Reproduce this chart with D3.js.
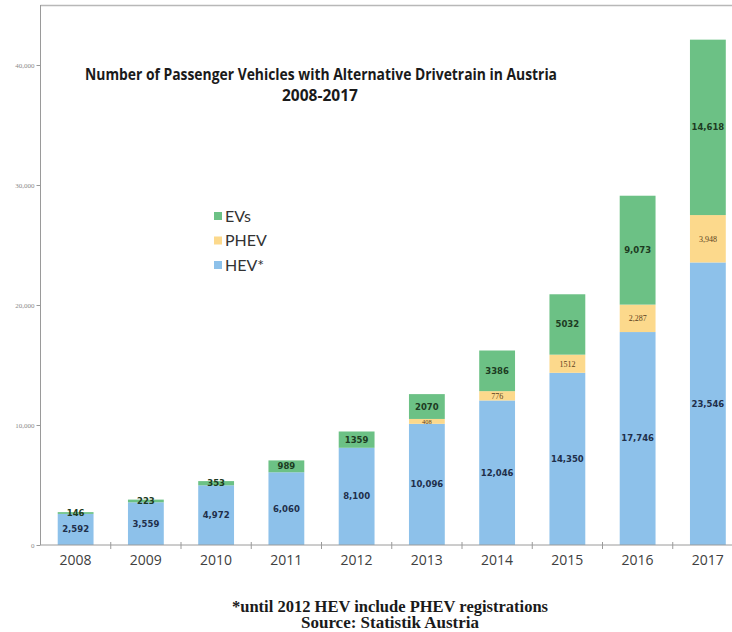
<!DOCTYPE html>
<html>
<head>
<meta charset="utf-8">
<script src="https://cdn.jsdelivr.net/npm/d3@7/dist/d3.min.js"></script>
<style>
  html, body { margin: 0; padding: 0; background: #fff; }
  svg { display: block; }
</style>
</head>
<body>
<svg id="chart" width="732" height="632"></svg>
<script>
// Registrations by year and drivetrain
const years = ["2008", "2009", "2010", "2011", "2012", "2013", "2014", "2015", "2016", "2017"];
const hev  = [2592, 3559, 4972, 6060, 8100, 10096, 12046, 14350, 17746, 23546];
const phev = [0, 0, 0, 0, 0, 408, 776, 1512, 2287, 3948];
const evs  = [146, 223, 353, 989, 1359, 2070, 3386, 5032, 9073, 14618];
// years whose EV / PHEV labels are printed without a thousands separator
const plainLabelYears = ["2012", "2013", "2014", "2015"];
const yTicks = [0, 10000, 20000, 30000, 40000];
const seriesNames = ["HEV*", "PHEV", "EVs"];
const colors = { "HEV*": "#8dc1ea", "PHEV": "#fcd98c", "EVs": "#6cc185" };

const svg = d3.select("#chart");
const W = 732, H = 632;

const x = d3.scaleBand().domain(years).range([40.5, 743]).paddingInner(0.49).paddingOuter(0.245);
const y = d3.scaleLinear().domain([0, 45000]).range([545, 5]);

// frame: top rule and left axis line
svg.append("line").attr("x1", 40.5).attr("x2", W).attr("y1", 5.5).attr("y2", 5.5)
  .attr("stroke", "#b8b8b8").attr("stroke-width", 1.5);

const rows = years.map((yr, i) => ({ year: yr, "HEV*": hev[i], "PHEV": phev[i], "EVs": evs[i] }));
const stacked = d3.stack().keys(seriesNames)(rows);

const g = svg.append("g");
stacked.forEach(layer => {
  g.append("g").attr("fill", colors[layer.key])
    .selectAll("rect").data(layer).join("rect")
    .filter(d => d[1] > d[0])
    .attr("x", d => x(d.data.year))
    .attr("width", x.bandwidth())
    .attr("y", d => y(d[1]))
    .attr("height", d => y(d[0]) - y(d[1]));
});

// y axis
const yAxis = d3.axisLeft(y).tickValues(yTicks).tickSize(4).tickFormat(d3.format(","));
const ya = svg.append("g").attr("transform", "translate(40.5,0)").call(yAxis);
ya.select(".domain").attr("stroke", "#9a9a9a").attr("d", "M0,5V545");
ya.selectAll(".tick line").attr("stroke", "#9a9a9a");
ya.selectAll(".tick text").attr("fill", "#8a8a8a")
  .attr("font-family", "'Liberation Serif', serif").attr("font-size", 7).attr("x", -6);

// x axis
const xAxis = d3.axisBottom(x).tickSize(0).tickPadding(10);
const xa = svg.append("g").attr("transform", "translate(0,545)").call(xAxis);
xa.select(".domain").attr("stroke", "#9a9a9a").attr("d", "M40.5,0H732");
xa.selectAll(".tick text").attr("fill", "#404040")
  .attr("font-family", "'Open Sans', sans-serif").attr("font-size", 14).attr("dy", "0.71em");
// separators between categories
const step = x.step();
xa.append("g").selectAll("line").data(years.slice(1)).join("line")
  .attr("x1", d => x(d) - x.paddingInner() * step / 2)
  .attr("x2", d => x(d) - x.paddingInner() * step / 2)
  .attr("y1", -3).attr("y2", 4).attr("stroke", "#9a9a9a");

// value labels inside the segments
const fmtComma = d3.format(",");
function labelText(key, d) {
  const v = d[1] - d[0];
  if (key === "HEV*") return fmtComma(v);
  return plainLabelYears.includes(d.data.year) ? String(v) : fmtComma(v);
}
stacked.forEach(layer => {
  const isPhev = layer.key === "PHEV";
  svg.append("g").selectAll("text").data(layer.filter(d => d[1] > d[0])).join("text")
    .attr("x", d => x(d.data.year) + x.bandwidth() / 2)
    .attr("y", d => y((d[0] + d[1]) / 2))
    .attr("dy", "0.35em")
    .attr("text-anchor", "middle")
    .attr("font-family", isPhev ? "'Liberation Serif', serif" : "'DejaVu Sans', sans-serif")
    .attr("font-weight", isPhev ? "normal" : "bold")
    .attr("font-size", isPhev ? (d => (d[1] - d[0] < 600 ? 6.5 : 8)) : 8.5)
    .attr("fill", isPhev ? "#5a4020" : (layer.key === "EVs" ? "#1d3b22" : "#1f2f4a"))
    .text(d => labelText(layer.key, d));
});

// title
const title = svg.append("g").attr("font-family", "'Open Sans', sans-serif")
  .attr("font-weight", "bold").attr("fill", "#1a1a1a").attr("text-anchor", "middle");
title.append("text").attr("x", 321).attr("y", 80).attr("font-size", 16)
  .attr("textLength", 472).attr("lengthAdjust", "spacingAndGlyphs")
  .text("Number of Passenger Vehicles with Alternative Drivetrain in Austria");
title.append("text").attr("x", 320).attr("y", 101).attr("font-size", 16)
  .attr("textLength", 76).attr("lengthAdjust", "spacingAndGlyphs")
  .text("2008-2017");

// legend
const legendOrder = ["EVs", "PHEV", "HEV*"];
const lg = svg.append("g").attr("transform", "translate(214,216)");
legendOrder.forEach((name, i) => {
  const row = lg.append("g").attr("transform", `translate(0,${i * 24.5})`);
  row.append("rect").attr("x", 0).attr("y", -4).attr("width", 8).attr("height", 8)
    .attr("fill", colors[name]);
  row.append("text").attr("x", 11).attr("y", 0).attr("dy", "0.35em")
    .attr("font-family", "Lato, sans-serif").attr("font-size", 16).attr("fill", "#333")
    .text(name);
});

// footnote and source
const foot = svg.append("g").attr("font-family", "'Liberation Serif', serif")
  .attr("font-weight", "bold").attr("fill", "#1a1a1a").attr("text-anchor", "middle")
  .attr("font-size", 16);
foot.append("text").attr("x", 390).attr("y", 612)
  .attr("textLength", 316).attr("lengthAdjust", "spacingAndGlyphs")
  .text("*until 2012 HEV include PHEV registrations");
foot.append("text").attr("x", 390).attr("y", 628)
  .attr("textLength", 178).attr("lengthAdjust", "spacingAndGlyphs")
  .text("Source: Statistik Austria");
</script>
</body>
</html>
